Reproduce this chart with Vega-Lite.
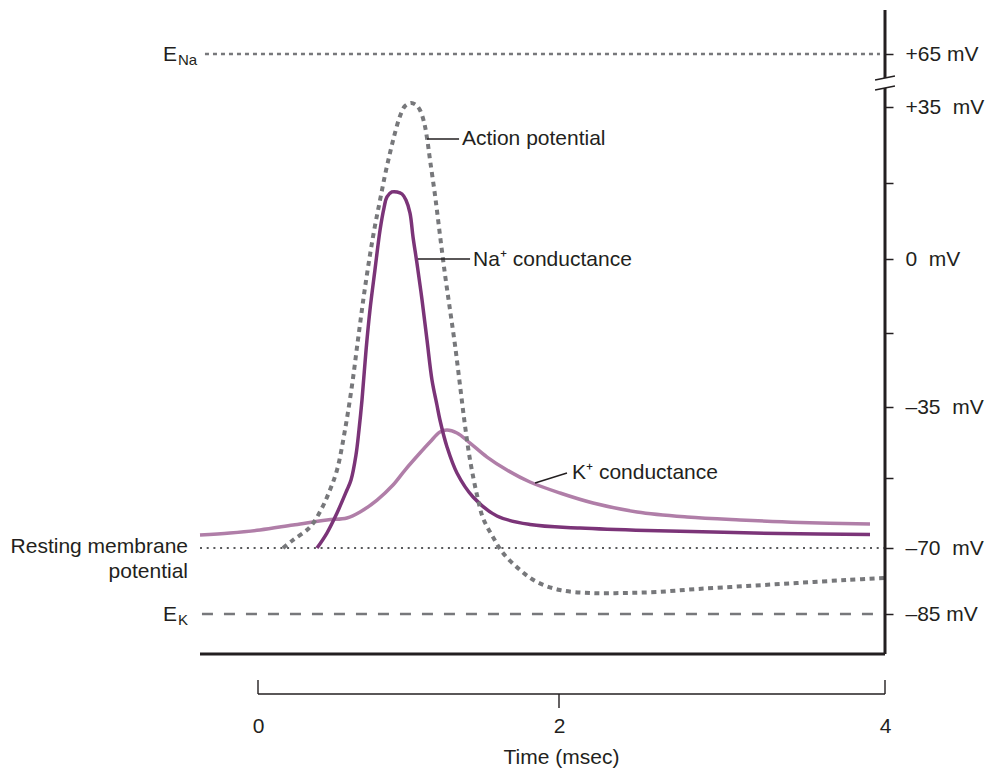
{
  "$schema": "https://vega.github.io/schema/vega-lite/v6.json",
  "width": 685,
  "height": 684,
  "autosize": {"type": "none"},
  "padding": {"left": 200, "top": 10, "right": 101, "bottom": 75},
  "background": "white",
  "datasets": {
    "curves": [
      {"series":"AP","t":0.166,"v":-70.00},{"series":"AP","t":0.233,"v":-68.01},{"series":"AP","t":0.346,"v":-64.79},{"series":"AP","t":0.425,"v":-60.07},{"series":"AP","t":0.478,"v":-55.60},{"series":"AP","t":0.525,"v":-50.64},{"series":"AP","t":0.578,"v":-40.71},{"series":"AP","t":0.625,"v":-29.80},{"series":"AP","t":0.664,"v":-19.16},{"series":"AP","t":0.704,"v":-8.51},{"series":"AP","t":0.744,"v":0.92},{"series":"AP","t":0.777,"v":7.60},{"series":"AP","t":0.811,"v":13.59},{"series":"AP","t":0.844,"v":19.34},{"series":"AP","t":0.877,"v":24.41},{"series":"AP","t":0.910,"v":29.01},{"series":"AP","t":0.944,"v":32.93},{"series":"AP","t":0.977,"v":35.57},{"series":"AP","t":1.017,"v":37.26},{"series":"AP","t":1.050,"v":36.13},{"series":"AP","t":1.076,"v":34.31},{"series":"AP","t":1.103,"v":31.55},{"series":"AP","t":1.123,"v":27.86},{"series":"AP","t":1.143,"v":22.80},{"series":"AP","t":1.176,"v":14.74},{"series":"AP","t":1.209,"v":5.53},{"series":"AP","t":1.243,"v":-3.78},{"series":"AP","t":1.276,"v":-12.06},{"series":"AP","t":1.309,"v":-20.34},{"series":"AP","t":1.342,"v":-29.80},{"series":"AP","t":1.375,"v":-39.47},{"series":"AP","t":1.409,"v":-48.16},{"series":"AP","t":1.455,"v":-56.84},{"series":"AP","t":1.495,"v":-62.55},{"series":"AP","t":1.561,"v":-67.27},{"series":"AP","t":1.628,"v":-71.14},{"series":"AP","t":1.741,"v":-75.00},{"series":"AP","t":1.854,"v":-77.73},{"series":"AP","t":2.006,"v":-79.55},{"series":"AP","t":2.190,"v":-80.23},{"series":"AP","t":2.393,"v":-80.23},{"series":"AP","t":2.601,"v":-80.00},{"series":"AP","t":2.847,"v":-79.32},{"series":"AP","t":3.153,"v":-78.64},{"series":"AP","t":3.460,"v":-77.95},{"series":"AP","t":3.767,"v":-77.27},{"series":"AP","t":4.000,"v":-76.82},
      {"series":"Na","t":0.392,"v":-70.00},{"series":"Na","t":0.458,"v":-66.28},{"series":"Na","t":0.525,"v":-61.31},{"series":"Na","t":0.591,"v":-55.60},{"series":"Na","t":0.618,"v":-53.12},{"series":"Na","t":0.651,"v":-46.91},{"series":"Na","t":0.671,"v":-40.71},{"series":"Na","t":0.691,"v":-33.34},{"series":"Na","t":0.718,"v":-21.52},{"series":"Na","t":0.744,"v":-12.06},{"series":"Na","t":0.777,"v":-2.60},{"series":"Na","t":0.811,"v":6.68},{"series":"Na","t":0.837,"v":11.74},{"series":"Na","t":0.857,"v":14.28},{"series":"Na","t":0.890,"v":15.43},{"series":"Na","t":0.924,"v":15.43},{"series":"Na","t":0.957,"v":14.97},{"series":"Na","t":0.983,"v":13.59},{"series":"Na","t":1.010,"v":10.59},{"series":"Na","t":1.030,"v":5.07},{"series":"Na","t":1.056,"v":-0.95},{"series":"Na","t":1.090,"v":-9.70},{"series":"Na","t":1.123,"v":-19.16},{"series":"Na","t":1.156,"v":-28.61},{"series":"Na","t":1.189,"v":-34.53},{"series":"Na","t":1.209,"v":-38.23},{"series":"Na","t":1.256,"v":-44.93},{"series":"Na","t":1.322,"v":-51.38},{"series":"Na","t":1.429,"v":-57.34},{"series":"Na","t":1.588,"v":-62.06},{"series":"Na","t":1.807,"v":-64.17},{"series":"Na","t":2.129,"v":-65.04},{"series":"Na","t":2.540,"v":-65.66},{"series":"Na","t":2.945,"v":-66.03},{"series":"Na","t":3.356,"v":-66.41},{"series":"Na","t":3.908,"v":-66.65},
      {"series":"K","t":-0.385,"v":-66.77},{"series":"K","t":-0.186,"v":-66.28},{"series":"K","t":0.013,"v":-65.53},{"series":"K","t":0.233,"v":-64.29},{"series":"K","t":0.458,"v":-63.05},{"series":"K","t":0.591,"v":-62.55},{"series":"K","t":0.678,"v":-61.06},{"series":"K","t":0.791,"v":-58.09},{"series":"K","t":0.897,"v":-54.36},{"series":"K","t":0.977,"v":-50.64},{"series":"K","t":1.076,"v":-46.42},{"series":"K","t":1.143,"v":-43.69},{"series":"K","t":1.209,"v":-41.21},{"series":"K","t":1.256,"v":-40.71},{"series":"K","t":1.322,"v":-41.46},{"series":"K","t":1.409,"v":-43.94},{"series":"K","t":1.522,"v":-47.42},{"series":"K","t":1.654,"v":-50.64},{"series":"K","t":1.807,"v":-53.62},{"series":"K","t":2.006,"v":-56.35},{"series":"K","t":2.209,"v":-58.83},{"series":"K","t":2.479,"v":-61.06},{"series":"K","t":2.785,"v":-62.31},{"series":"K","t":3.110,"v":-63.05},{"series":"K","t":3.479,"v":-63.67},{"series":"K","t":3.908,"v":-64.05}
    ],
    "hrules": [
      {"name":"ENa","t":-0.352,"t2":3.969,"v":65},
      {"name":"rest","t":-0.385,"t2":4,"v":-70},
      {"name":"EK","t":-0.372,"t2":4,"v":-85},
      {"name":"frame","t":-0.385,"t2":4,"v":-94.5},
      {"name":"bracket","t":0,"t2":4,"v":-104},
      {"name":"leader","t":1.123,"t2":1.336,"v":27.63},
      {"name":"leader","t":1.063,"t2":1.409,"v":0}
    ],
    "vrules": [
      {"name":"axis","t":4,"v":51.41,"v2":75.5},
      {"name":"axis","t":4,"v":-94.5,"v2":45.75},
      {"name":"bracket","t":0,"v":-104,"v2":-100.68},
      {"name":"bracket","t":4,"v":-104,"v2":-100.68},
      {"name":"bracket","t":2,"v":-104,"v2":-107.33}
    ],
    "drules": [
      {"name":"break","t":3.939,"t2":4.061,"v":50.28,"v2":52.55},
      {"name":"break","t":3.939,"t2":4.061,"v":44.62,"v2":46.89},
      {"name":"leader","t":1.841,"t2":2.049,"v":-53.87,"v2":-51.38}
    ],
    "notes": [
      {"label":"Action potential","t":1.355,"v":27.63},
      {"label":"Na⁺ conductance","t":1.429,"v":-0.24},
      {"label":"K⁺ conductance","t":2.080,"v":-51.38}
    ],
    "equil": [
      {"main":"E","sub":"Na","t":-0.385,"v":65},
      {"main":"E","sub":"K","t":-0.385,"v":-85}
    ],
    "rest": [
      {"label":["Resting membrane","potential"],"t":-0.385,"v":-70}
    ]
  },
  "encoding": {
    "x": {
      "field": "t", "type": "quantitative",
      "scale": {"domain": [-0.385, 0, 2, 4], "range": [0, 58, 359, 685], "nice": false, "zero": false},
      "axis": {
        "orient": "bottom", "values": [0, 2, 4], "domain": false, "ticks": false, "grid": false,
        "labelPadding": 21, "labelFontSize": 21, "labelColor": "#231f20", "labelFont": "Liberation Sans",
        "labelFlush": false, "labelOverlap": false,
        "title": "Time (msec)", "titleFontSize": 21, "titleFontWeight": "normal", "titleColor": "#231f20",
        "titleFont": "Liberation Sans", "titleX": 361, "titleY": 52, "titleBaseline": "top", "titleAlign": "center"
      }
    },
    "y": {
      "field": "v", "type": "quantitative",
      "scale": {"domain": [-104, -85, -70, -35, 0, 35, 65, 75.5], "range": [684, 604, 538, 397, 249, 97, 44, 0], "nice": false, "zero": false},
      "axis": {
        "orient": "right", "values": [65, 35, 17.5, 0, -17.5, -35, -52.5, -70, -85],
        "labelExpr": "datum.value == 65 ? '+65 mV' : datum.value == 35 ? '+35\u00a0 mV' : datum.value == 0 ? '0\u00a0 mV' : datum.value == -35 ? '–35\u00a0 mV' : datum.value == -70 ? '–70\u00a0 mV' : datum.value == -85 ? '–85 mV' : ''",
        "domain": false, "ticks": true, "tickSize": 8, "tickWidth": 1.5, "tickColor": "#231f20",
        "grid": false, "labelPadding": 12, "labelFontSize": 21, "labelColor": "#231f20", "labelFont": "Liberation Sans",
        "labelOverlap": false, "labelFlush": false, "labelBound": false, "title": null
      }
    }
  },
  "layer": [
    {"data": {"name": "hrules"}, "transform": [{"filter": "datum.name == 'ENa'"}],
     "mark": {"type": "rule", "color": "#77787b", "strokeWidth": 2.5, "strokeDash": [4, 4]},
     "encoding": {"x2": {"field": "t2"}}},
    {"data": {"name": "hrules"}, "transform": [{"filter": "datum.name == 'rest'"}],
     "mark": {"type": "rule", "color": "#58595b", "strokeWidth": 2.2, "strokeDash": [2, 4.7]},
     "encoding": {"x2": {"field": "t2"}}},
    {"data": {"name": "hrules"}, "transform": [{"filter": "datum.name == 'EK'"}],
     "mark": {"type": "rule", "color": "#77787b", "strokeWidth": 2.5, "strokeDash": [11, 11]},
     "encoding": {"x2": {"field": "t2"}}},
    {"data": {"name": "curves"}, "transform": [{"filter": "datum.series == 'K'"}],
     "mark": {"type": "line", "interpolate": "catmull-rom", "color": "#b07ea8", "strokeWidth": 3.5}},
    {"data": {"name": "curves"}, "transform": [{"filter": "datum.series == 'Na'"}],
     "mark": {"type": "line", "interpolate": "catmull-rom", "color": "#7b3478", "strokeWidth": 3.5}},
    {"data": {"name": "curves"}, "transform": [{"filter": "datum.series == 'AP'"}],
     "mark": {"type": "line", "interpolate": "catmull-rom", "color": "#77787b", "strokeWidth": 4, "strokeDash": [5, 4.5]}},
    {"data": {"name": "hrules"}, "transform": [{"filter": "datum.name == 'frame'"}],
     "mark": {"type": "rule", "color": "#231f20", "strokeWidth": 3},
     "encoding": {"x2": {"field": "t2"}}},
    {"data": {"name": "hrules"}, "transform": [{"filter": "datum.name == 'bracket' || datum.name == 'leader'"}],
     "mark": {"type": "rule", "color": "#231f20", "strokeWidth": 1.4},
     "encoding": {"x2": {"field": "t2"}}},
    {"data": {"name": "vrules"}, "transform": [{"filter": "datum.name == 'axis'"}],
     "mark": {"type": "rule", "color": "#231f20", "strokeWidth": 3},
     "encoding": {"y2": {"field": "v2"}}},
    {"data": {"name": "vrules"}, "transform": [{"filter": "datum.name == 'bracket'"}],
     "mark": {"type": "rule", "color": "#231f20", "strokeWidth": 1.4},
     "encoding": {"y2": {"field": "v2"}}},
    {"data": {"name": "drules"},
     "mark": {"type": "rule", "color": "#231f20", "strokeWidth": 1.5},
     "encoding": {"x2": {"field": "t2"}, "y2": {"field": "v2"}}},
    {"data": {"name": "notes"},
     "mark": {"type": "text", "align": "left", "baseline": "middle", "fontSize": 21, "color": "#231f20", "font": "Liberation Sans"},
     "encoding": {"text": {"field": "label", "type": "nominal"}}},
    {"data": {"name": "equil"},
     "mark": {"type": "text", "align": "right", "baseline": "alphabetic", "dx": -23, "dy": 7, "fontSize": 21, "color": "#231f20", "font": "Liberation Sans"},
     "encoding": {"text": {"field": "main", "type": "nominal"}}},
    {"data": {"name": "equil"},
     "mark": {"type": "text", "align": "left", "baseline": "alphabetic", "dx": -22, "dy": 11, "fontSize": 15, "color": "#231f20", "font": "Liberation Sans"},
     "encoding": {"text": {"field": "sub", "type": "nominal"}}},
    {"data": {"name": "rest"},
     "mark": {"type": "text", "align": "right", "baseline": "alphabetic", "dx": -12, "dy": 5, "lineHeight": 25, "fontSize": 21, "color": "#231f20", "font": "Liberation Sans"},
     "encoding": {"text": {"field": "label", "type": "nominal"}}}
  ],
  "config": {
    "view": {"stroke": null},
    "font": "Liberation Sans"
  }
}
